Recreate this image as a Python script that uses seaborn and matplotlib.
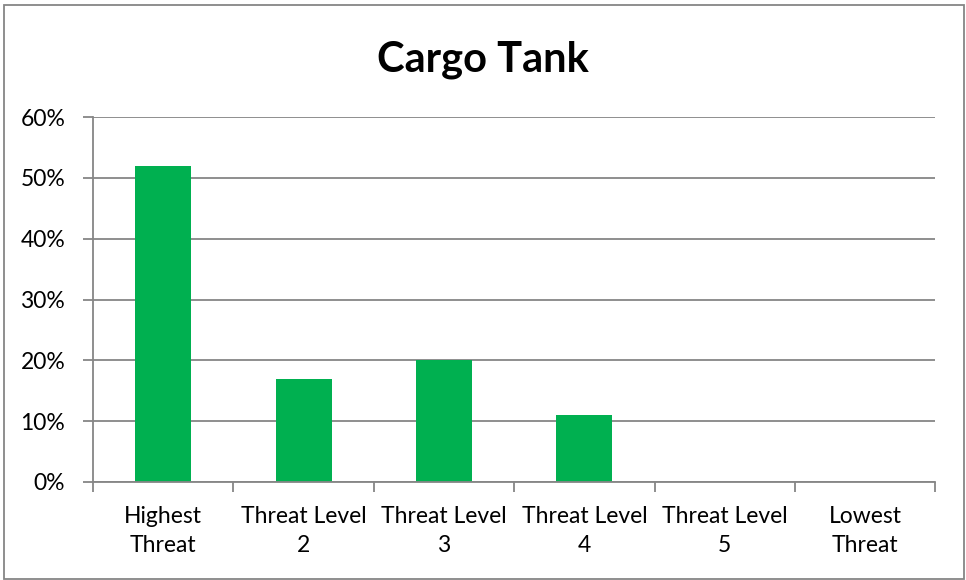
import matplotlib
matplotlib.use("Agg")
import matplotlib.pyplot as plt
import seaborn as sns
import pandas as pd
from matplotlib.patches import Rectangle
from matplotlib.ticker import FuncFormatter

# Values
categories = ["Highest\nThreat", "Threat Level\n2", "Threat Level\n3",
              "Threat Level\n4", "Threat Level\n5", "Lowest\nThreat"]
shares = [0.52, 0.17, 0.20, 0.11, 0.0, 0.0]

df = pd.DataFrame({"category": categories, "share": shares})

sns.set_theme(style="white")
plt.rcParams["font.family"] = ["Lato", "DejaVu Sans"]
plt.rcParams["text.color"] = "black"

fig = plt.figure(figsize=(9.66, 5.8), dpi=100)
ax = fig.add_axes([0.0963, 0.169, 0.872, 0.629])

sns.barplot(data=df, x="category", y="share", color="#00B050",
            saturation=1, width=0.4, linewidth=0, ax=ax)

ax.set_ylim(0, 0.6)
ax.set_xlim(-0.5, len(categories) - 0.5)
ax.set_yticks([0, 0.1, 0.2, 0.3, 0.4, 0.5, 0.6])
ax.yaxis.set_major_formatter(FuncFormatter(lambda v, p: f"{v * 100:.0f}%"))
ax.yaxis.grid(True, color="#868686", linewidth=1.3)
ax.set_axisbelow(True)

# category boundaries get tick marks, labels sit in the middle
ax.set_xticks([i - 0.5 for i in range(len(categories) + 1)])
ax.set_xticklabels([])
ax.set_xticks(range(len(categories)), minor=True)
ax.set_xticklabels(categories, minor=True, fontsize=16.5, color="black",
                   linespacing=1.5)
ax.tick_params(axis="x", which="major", length=7, width=1.3, color="#868686",
               direction="out", bottom=True)
ax.tick_params(axis="x", which="minor", length=0, pad=17)
ax.tick_params(axis="y", length=7, width=1.3, color="#868686", direction="out",
               left=True, labelsize=16.5, labelcolor="black", pad=13)

for side in ["top", "right"]:
    ax.spines[side].set_visible(False)
for side in ["left", "bottom"]:
    ax.spines[side].set_color("#868686")
    ax.spines[side].set_linewidth(1.3)

ax.set_xlabel("")
ax.set_ylabel("")
fig.suptitle("Cargo Tank", fontsize=30, fontweight="bold", y=0.93, color="black")

fig.patches.append(Rectangle((0.004, 0.002), 0.994, 0.99, transform=fig.transFigure,
                             fill=False, edgecolor="#868686", linewidth=1.3))

fig.savefig("out.png", dpi=100)
